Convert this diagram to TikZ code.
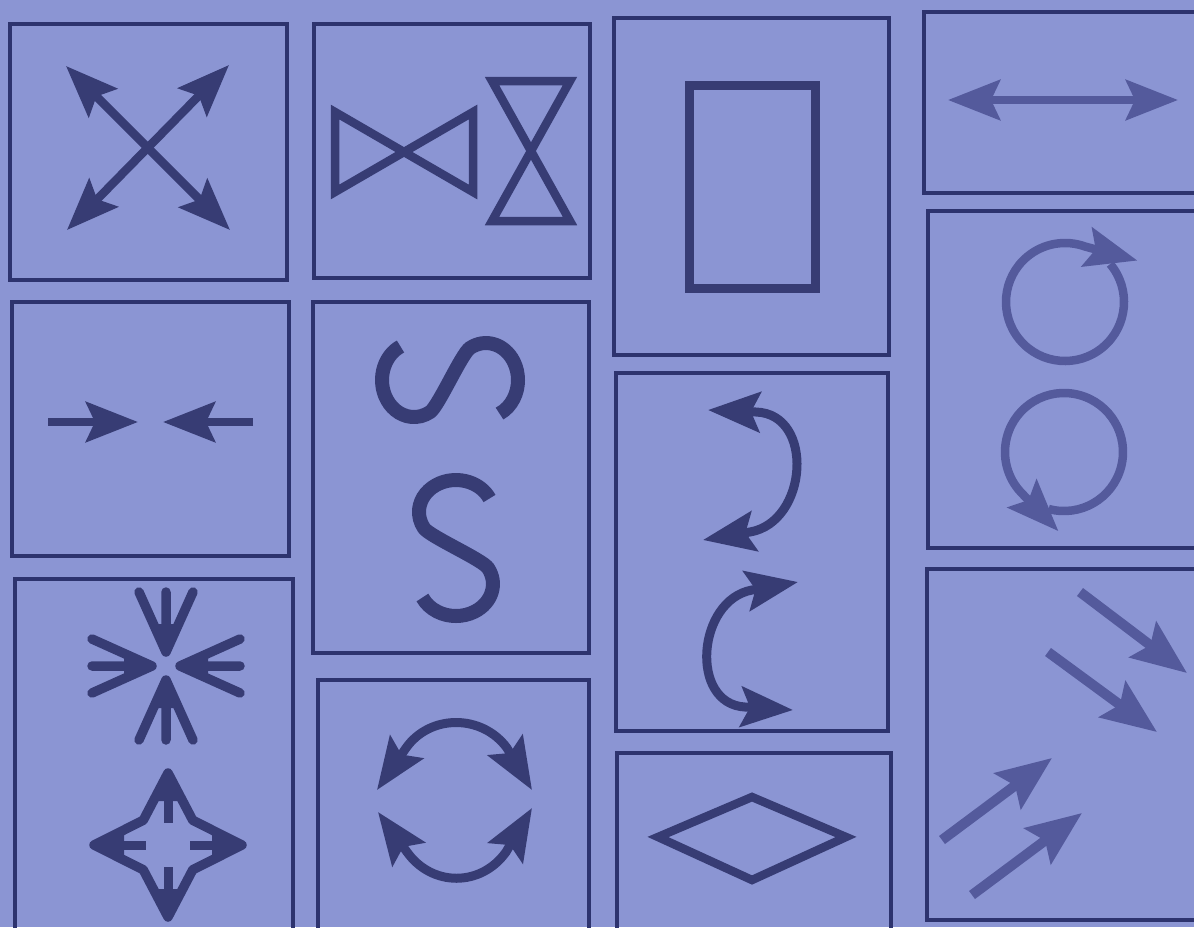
\documentclass[tikz,border=0pt]{standalone}
\usetikzlibrary{arrows.meta,calc}
\definecolor{paper}{RGB}{139,149,211}
\definecolor{ink}{RGB}{55,60,116}
\definecolor{inkpale}{RGB}{84,90,156}
\definecolor{rule}{RGB}{45,51,110}
\tikzset{
  panel/.style={draw=rule, line width=3.5pt},
  glyph/.style={draw=ink, line width=8.5pt},
  faded/.style={draw=inkpale},
  >={Stealth[length=52pt, width=40pt, inset=9pt]}
}
\newcommand\sstroke{(33.5,-49.5) arc[start angle=-25, end angle=-210, x radius=37, y radius=32] .. controls (-26.5,-11.6) and (26.5,11.6) .. (32,20) arc[start angle=-30, end angle=155, x radius=37, y radius=32]}

\begin{document}
\begin{tikzpicture}[x=1pt, y=-1pt]
\useasboundingbox (0,0) rectangle (1194,927);
\clip (0,0) rectangle (1194,927);
\fill[paper] (0,0) rectangle (1194,927);

\draw[panel] (10,24) rectangle (287,280);
\draw[panel] (314,24) rectangle (590,278);
\draw[panel] (614,18) rectangle (889,355);
\draw[panel] (924,12) rectangle (1205,193);
\draw[panel] (12,302) rectangle (289,556);
\draw[panel] (313,302) rectangle (589,653);
\draw[panel] (616,373) rectangle (888,731);
\draw[panel] (928,211) rectangle (1205,548);
\draw[panel] (15,579) rectangle (293,940);
\draw[panel] (318,680) rectangle (589,940);
\draw[panel] (617,753) rectangle (891,940);
\draw[panel] (927,569) rectangle (1205,920);

\draw[glyph, <->] (66,66) -- (230,230);
\draw[glyph, <->] (229,65) -- (67,230);

\draw[glyph, line join=miter] (335,112) -- (473,192) -- (473,112) -- (335,192) -- cycle;
\draw[glyph, line join=miter] (492,81) -- (570,81) -- (492,221) -- (570,221) -- cycle;

\draw[glyph, line width=9pt] (689,85) rectangle (815,288);

\draw[glyph, faded, <->] (948,100) -- (1178,100);

\draw[glyph, ->] (48,422) -- (138,422);
\draw[glyph, ->] (253,422) -- (163,422);

\begin{scope}[shift={(450,380)}, rotate=90]
\draw[glyph, line width=14pt] \sstroke;
\end{scope}
\begin{scope}[shift={(456,548)}]
\draw[glyph, line width=14pt] \sstroke;
\end{scope}

\draw[glyph, line width=9pt, <->] (708,410) -- (756,412) .. controls (815,414) and (808,522) .. (750,532) -- (703,540);
\draw[glyph, line width=9pt, <->] (798,582) -- (752,590) .. controls (697,600) and (689,704) .. (745,707) -- (793,710);

\coordinate (upper loop) at (1065,302);
\coordinate (lower loop) at (1064,452);
\draw[glyph, faded, ->] ($(upper loop)+(-40:59)$) arc[start angle=-40, end angle=290, radius=59] -- ++(15:54);
\draw[glyph, faded, ->] ($(lower loop)+(105:59)$) arc[start angle=105, end angle=-224, radius=59] -- ++(46:53);

\coordinate (burst) at (166,666);
\foreach \a in {0,90,180,270} {
  \fill[ink] ($(burst)+(\a:13)$) -- ($(burst)+(\a:42)+({\a+90}:13)$) -- ($(burst)+(\a:42)+({\a-90}:13)$) -- cycle;
  \draw[glyph, line width=9.5pt, line cap=round, line join=round] ($(burst)+(\a:74)+({\a+90}:27)$) -- ($(burst)+(\a:14)$) -- ($(burst)+(\a:74)+({\a-90}:27)$) ($(burst)+(\a:14)$) -- ($(burst)+(\a:74)$);
}

\coordinate (star) at (168,845);
\draw[glyph, line width=9.5pt, line join=round] ($(star)+(0:74)$) -- ($(star)+(45:35)$) -- ($(star)+(90:72)$) -- ($(star)+(135:35)$) -- ($(star)+(180:74)$) -- ($(star)+(225:35)$) -- ($(star)+(270:72)$) -- ($(star)+(315:35)$) -- cycle;
\foreach \a in {0,90,180,270} {
  \fill[ink] ($(star)+(\a:76)$) -- ($(star)+(\a:44)+({\a+90}:15)$) -- ($(star)+(\a:44)+({\a-90}:15)$) -- cycle;
  \draw[glyph, line width=9pt] ($(star)+(\a:50)$) -- ($(star)+(\a:22)$);
}

\draw[glyph, line width=9pt, <->] (377,790) -- (406,748) .. controls (430,714) and (482,714) .. (507,748) -- (532,790);
\draw[glyph, line width=9pt, <->] (378,812) -- (407,852) .. controls (432,887) and (481,887) .. (506,852) -- (532,808);

\draw[glyph, line join=miter] (658,837) -- (752,797) -- (846,837) -- (752,880) -- cycle;

\begin{scope}[>={Stealth[length=55pt, width=44pt, inset=9pt]}]
\draw[glyph, faded, line width=10pt, ->] (1080,592) -- (1187,673);
\draw[glyph, faded, line width=10pt, ->] (1048,652) -- (1157,732);
\draw[glyph, faded, line width=10pt, ->] (942,840) -- (1052,758);
\draw[glyph, faded, line width=10pt, ->] (972,895) -- (1082,813);
\end{scope}
\end{tikzpicture}
\end{document}
